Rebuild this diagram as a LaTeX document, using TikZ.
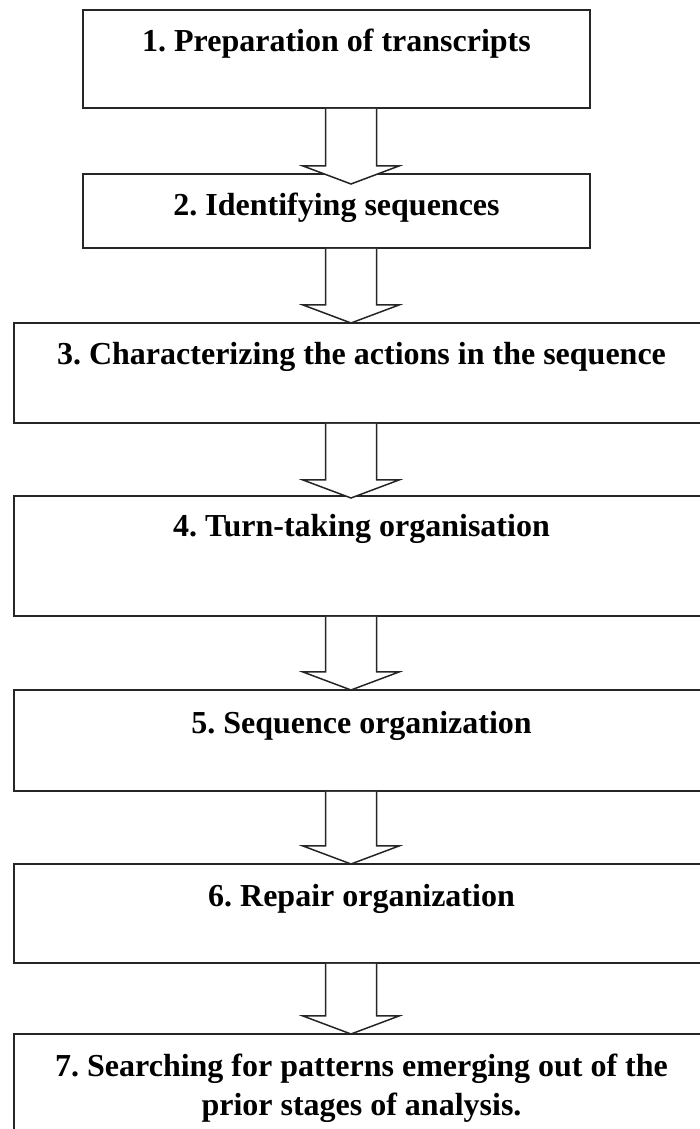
\documentclass[tikz,border=0pt]{standalone}
\usepackage{fontspec}
\setmainfont{Liberation Serif}
\frenchspacing
\usetikzlibrary{positioning,calc}
\tikzstyle{stage} = [draw=black!85,fill=white,line width=1pt,inner sep=0pt,outer sep=0pt]
\tikzstyle{nstage} = [stage,minimum width=253.5pt]
\tikzstyle{wstage} = [stage,minimum width=348pt]
\tikzstyle{title} = [anchor=base,inner sep=0pt,align=center,font=\fontsize{16}{19.5}\selectfont\bfseries]
\tikzstyle{flow} = [draw=black!85,fill=white,line width=0.75pt,line join=miter]

\begin{document}
\begin{tikzpicture}
    \clip (0,0) rectangle (350pt,564.5pt);

    % stages
    \node[nstage,minimum height=49pt] (s1) at (168.25pt,535pt) {};
    \node[nstage,minimum height=37pt] (s2) [below=33pt of s1] {};
    \node[wstage,minimum height=50pt] (s3) [below=37.5pt of s2,xshift=12.5pt] {};
    \node[wstage,minimum height=60pt] (s4) [below=36.5pt of s3] {};
    \node[wstage,minimum height=50.5pt] (s5) [below=37pt of s4] {};
    \node[wstage,minimum height=49.5pt] (s6) [below=36.5pt of s5] {};
    \node[wstage,minimum height=56pt] (s7) [below=35.5pt of s6] {};

    % titles
    \node[title] (t1) at ($(s1.north)-(0,21pt)$) {1. Preparation of transcripts};
    \node[title] (t2) at ($(s2.north)-(0,21pt)$) {2. Identifying sequences};
    \node[title] (t3) at ($(s3.north)-(0,21pt)$) {3. Characterizing the actions in the sequence};
    \node[title] (t4) at ($(s4.north)-(0,20.5pt)$) {4. Turn-taking organisation};
    \node[title] (t5) at ($(s5.north)-(0,22pt)$) {5. Sequence organization};
    \node[title] (t6) at ($(s6.north)-(0,21.5pt)$) {6. Repair organization};
    \node[title] (t7) at ($(s7.north)-(0,41pt)$) {7. Searching for patterns emerging out of the\\prior stages of analysis.};

    % arrows
    \coordinate (axis) at (175.5pt,0);
    \foreach \a/\b/\o in {s1/s2/5pt,s2/s3/0pt,s3/s4/1pt,s4/s5/0pt,s5/s6/0pt,s6/s7/0pt}{
      \coordinate (tip) at ($(\b.north -| axis)-(0,\o)$);
      \draw[flow] ($(\a.south -| axis)+(-12.75pt,-0.5pt)$) -- ($(tip)+(-12.75pt,9pt)$)
        -- ($(tip)+(-24pt,9pt)$) -- (tip) -- ($(tip)+(24pt,9pt)$)
        -- ($(tip)+(12.75pt,9pt)$) -- ($(\a.south -| axis)+(12.75pt,-0.5pt)$);
    }
\end{tikzpicture}
\end{document}
